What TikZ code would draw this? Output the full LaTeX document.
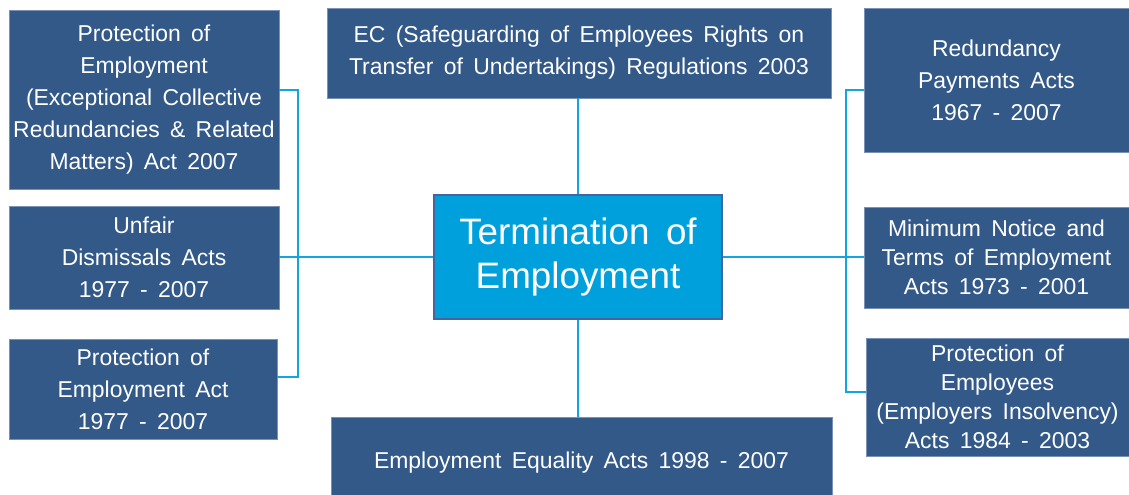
\documentclass[tikz,border=0pt]{standalone}
\usepackage{fontspec}
\setmainfont{Liberation Sans}
\usetikzlibrary{positioning}
\definecolor{boxblue}{RGB}{51,89,137}
\definecolor{boxedge}{RGB}{120,145,180}
\definecolor{hubblue}{RGB}{0,160,221}
\definecolor{hubedge}{RGB}{70,100,160}
\definecolor{linkblue}{RGB}{20,165,225}
\newcommand\actfont{\fontsize{17.2}{24}\selectfont\spaceskip=0.45em plus 0.1em\relax}
\newcommand\tightfont{\fontsize{17.2}{21.75}\selectfont\spaceskip=0.45em plus 0.1em\relax}
\newcommand\hubfont{\fontsize{27.6}{33}\selectfont\spaceskip=0.45em plus 0.1em\relax}
\tikzset{
  actbox/.style={fill=boxblue, draw=boxedge, line width=0.6pt, text=white, align=center, inner sep=0pt, font=\actfont},
  tight/.style={font=\tightfont},
  hub/.style={fill=hubblue, draw=hubedge, line width=0.8pt, text=white, align=center, inner sep=0pt, font=\hubfont},
  link/.style={draw=linkblue, line width=2.1pt}
}
\begin{document}
\begin{tikzpicture}[x=0.75pt, y=-0.75pt]
      \useasboundingbox (0,0) rectangle (1129,495);
      \node[hub, minimum width=216pt, minimum height=93pt] (hub) at (578,257) {Termination of\\Employment};
      \node[actbox, minimum width=202.5pt, minimum height=134.25pt] (l1) at (144,99.5) {Protection of\\Employment\\(Exceptional Collective\\Redundancies \& Related\\Matters) Act 2007};
      \node[actbox, minimum width=202.5pt, minimum height=77.25pt] (l2) at (144,257.5) {Unfair\\Dismissals Acts\\1977 - 2007};
      \node[actbox, minimum width=201pt, minimum height=75pt] (l3) at (143,389) {Protection of\\Employment Act\\1977 - 2007};
      \node[actbox, minimum width=378pt, minimum height=67.5pt] (top) at (579,53) {EC (Safeguarding of Employees Rights on\\Transfer of Undertakings) Regulations 2003};
      \node[actbox, minimum width=375.75pt, minimum height=69pt] (bot) at (581.5,463) {Employment Equality Acts 1998 - 2007};
      \node[actbox, minimum width=198.75pt, minimum height=108pt] (r1) at (996.5,80) {Redundancy\\Payments Acts\\1967 - 2007};
      \node[actbox, tight, minimum width=198.75pt, minimum height=75.75pt] (r2) at (996.5,257.5) {Minimum Notice and\\Terms of Employment\\Acts 1973 - 2001};
      \node[actbox, tight, minimum width=197.25pt, minimum height=88.5pt] (r3) at (997.5,397) {Protection of\\Employees\\(Employers Insolvency)\\Acts 1984 - 2003};
      \coordinate (lj1) at (298,90);
      \coordinate (lj3) at (298,377);
      \coordinate (rj1) at (846,90);
      \coordinate (rj3) at (846,392);
      \draw[link] (l1.east |- lj1) -- (lj1) -- (lj3) -- (l3.east |- lj3);
      \draw[link] (l2.east |- hub.west) -- (hub.west);
      \draw[link] (r1.west |- rj1) -- (rj1) -- (rj3) -- (r3.west |- rj3);
      \draw[link] (hub.east) -- (hub.east -| r2.west);
      \draw[link] (top.south -| hub.north) -- (hub.north);
      \draw[link] (hub.south) -- (hub.south |- bot.north);
    \end{tikzpicture}
\end{document}
